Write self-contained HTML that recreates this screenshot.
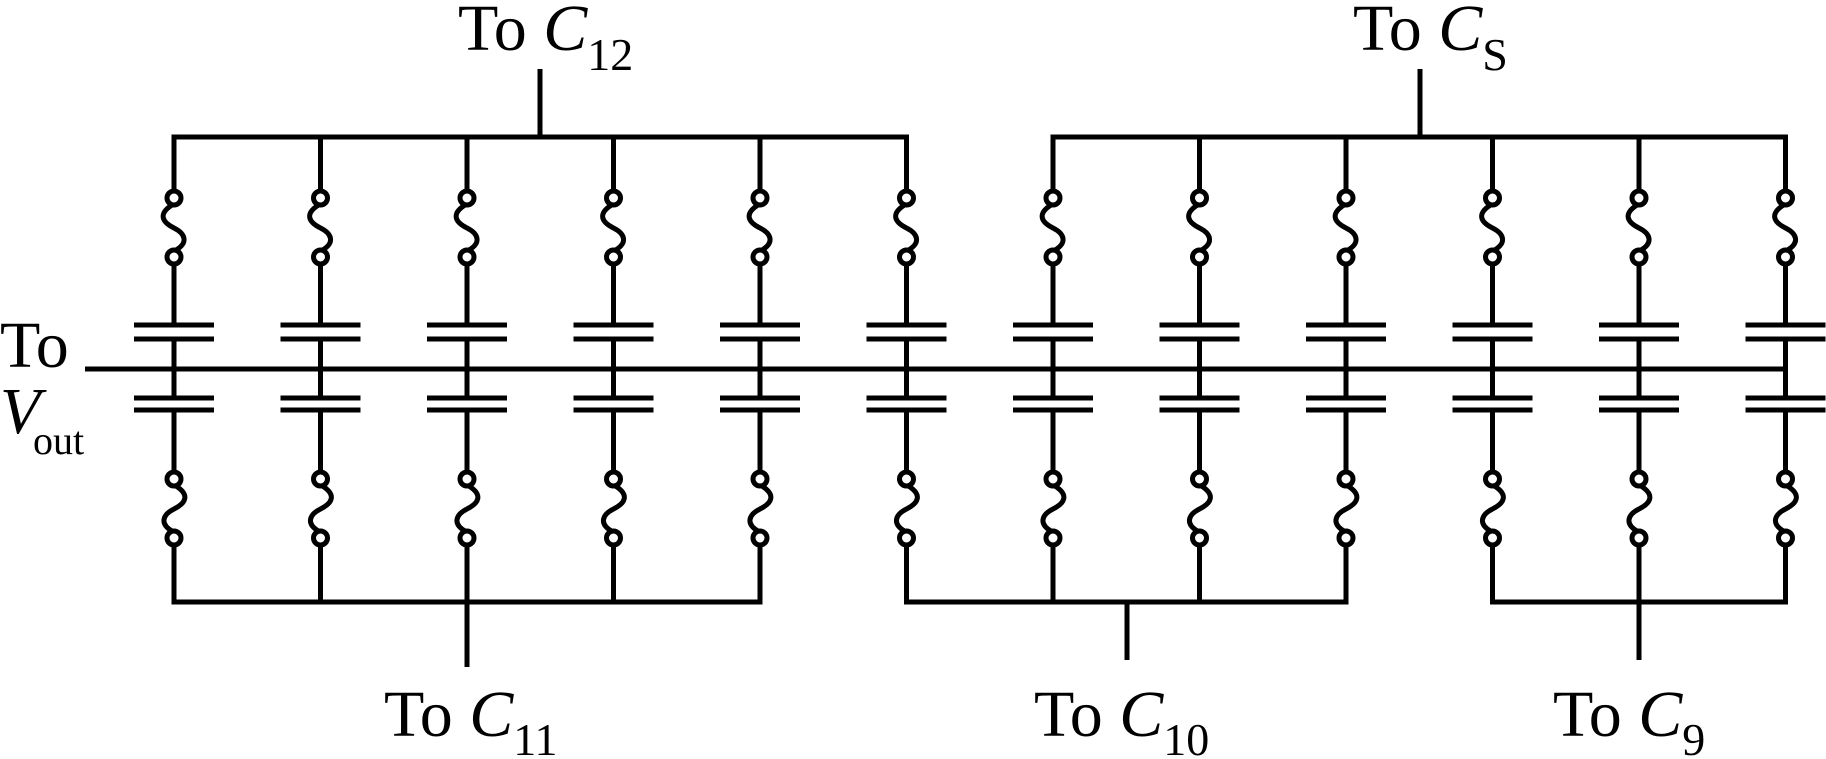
<!DOCTYPE html>
<html><head><meta charset="utf-8"><style>
html,body{margin:0;padding:0;background:#fff;}
svg{display:block;}
text{font-family:"Liberation Serif",serif;fill:#000;}
</style></head><body>
<svg width="1826" height="759" viewBox="0 0 1826 759" xmlns="http://www.w3.org/2000/svg">
<defs>
<g id="col" stroke="#000" stroke-width="5" fill="none">
<line x1="0" y1="137" x2="0" y2="191"/>
<circle cx="0" cy="198" r="7"/><circle cx="0" cy="257" r="7"/>
<path d="M-2,205 C-16,214 -12,222 0,228 C12,234 14,243 2,250"/>
<line x1="0" y1="264" x2="0" y2="325"/>
<line x1="0" y1="339" x2="0" y2="398"/>
<line x1="0" y1="410" x2="0" y2="472"/>
<circle cx="0" cy="479" r="7"/><circle cx="0" cy="538" r="7"/>
<path d="M2,486 C16,495 12,503 0,509 C-12,515 -14,524 -2,531"/>
<line x1="0" y1="545" x2="0" y2="602"/>
<line x1="-40" y1="325" x2="40" y2="325"/>
<line x1="-40" y1="339" x2="40" y2="339"/>
<line x1="-40" y1="398" x2="40" y2="398"/>
<line x1="-40" y1="410" x2="40" y2="410"/>
</g>
</defs>
<g stroke="#000" stroke-width="5" fill="none">
<line x1="171.5" y1="137" x2="909" y2="137"/>
<line x1="1050.5" y1="137" x2="1788" y2="137"/>
<line x1="540" y1="69" x2="540" y2="137"/>
<line x1="1420" y1="69" x2="1420" y2="137"/>
<line x1="171.5" y1="602" x2="762.5" y2="602"/>
<line x1="904" y1="602" x2="1348.5" y2="602"/>
<line x1="1490" y1="602" x2="1788" y2="602"/>
<line x1="467" y1="602" x2="467" y2="667"/>
<line x1="1127" y1="602" x2="1127" y2="660"/>
<line x1="1639" y1="602" x2="1639" y2="660"/>
<line x1="85" y1="369" x2="1787" y2="369"/>
</g>
<use href="#col" x="174"/>
<use href="#col" x="320.5"/>
<use href="#col" x="467"/>
<use href="#col" x="613.5"/>
<use href="#col" x="760"/>
<use href="#col" x="906.5"/>
<use href="#col" x="1053"/>
<use href="#col" x="1199.5"/>
<use href="#col" x="1346"/>
<use href="#col" x="1492.5"/>
<use href="#col" x="1639"/>
<use href="#col" x="1785.5"/>
<text x="0" y="367" font-size="66">To</text>
<text x="0" y="433" font-size="66" font-style="italic">V</text>
<text x="33" y="454" font-size="40">out</text>
<text x="458" y="50" font-size="66">To <tspan font-style="italic">C</tspan><tspan font-size="46" dy="20">12</tspan></text>
<text x="1353" y="50" font-size="66">To <tspan font-style="italic">C</tspan><tspan font-size="46" dy="20">S</tspan></text>
<text x="384" y="736" font-size="66">To <tspan font-style="italic">C</tspan><tspan font-size="46" dy="19">11</tspan></text>
<text x="1034" y="736" font-size="66">To <tspan font-style="italic">C</tspan><tspan font-size="46" dy="19">10</tspan></text>
<text x="1553" y="736" font-size="66">To <tspan font-style="italic">C</tspan><tspan font-size="46" dy="19">9</tspan></text>
</svg>
</body></html>
